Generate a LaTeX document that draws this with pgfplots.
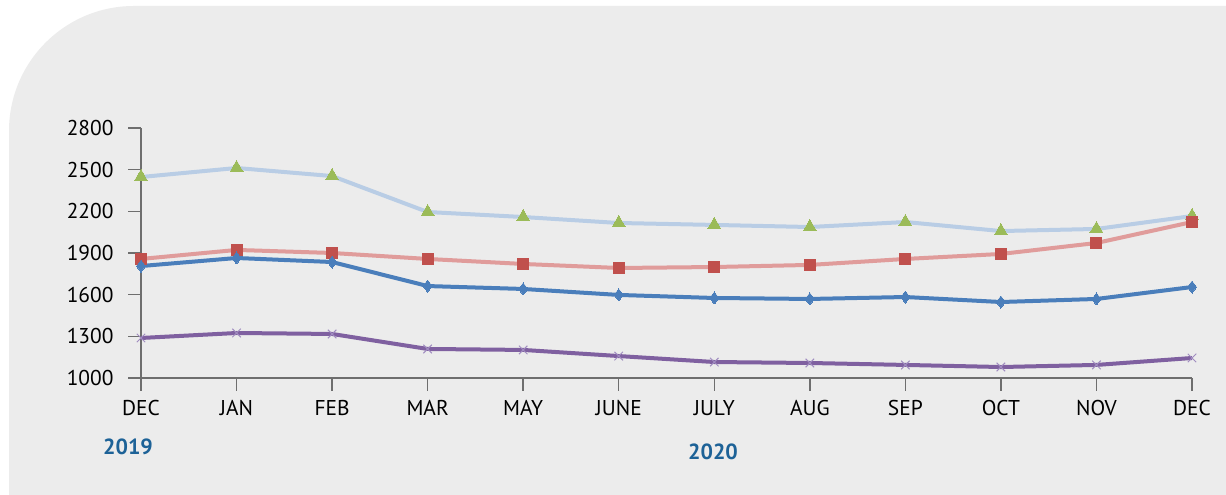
\documentclass[border=0pt]{standalone}
\usepackage{fontspec}
\setmainfont{PT Sans}
\usepackage{pgfplots}
\pgfplotsset{compat=1.18}

\definecolor{bg}{HTML}{ECECEC}
\definecolor{axisgray}{HTML}{6E6E6E}
\definecolor{lblue}{HTML}{B9CDE5}
\definecolor{tgreen}{HTML}{9BBB59}
\definecolor{lred}{HTML}{E09C9B}
\definecolor{sred}{HTML}{C0504D}
\definecolor{mblue}{HTML}{4A7EBB}
\definecolor{purp}{HTML}{7F60A0}
\definecolor{lpurp}{HTML}{A08CC0}
\definecolor{yearblue}{HTML}{1D6297}

\begin{document}
\begin{tikzpicture}[x=1bp,y=1bp]
\useasboundingbox (0,0) rectangle (1226,495);
\fill[white] (0,0) rectangle (1226,495);
\fill[bg] (9,0) -- (9,364) arc[start angle=180, end angle=90, radius=125] -- (1226,489) -- (1226,0) -- cycle;

\begin{axis}[
  at={(141bp,117bp)}, anchor=south west,
  width=1051bp, height=250bp,
  scale only axis,
  xmin=0, xmax=11,
  ymin=1000, ymax=2800,
  ytick={1000,1300,...,2800},
  xtick={0,...,11},
  xticklabels={DEC,JAN,FEB,MAR,MAY,JUNE,JULY,AUG,SEP,OCT,NOV,DEC},
  axis x line*=bottom,
  axis y line*=left,
  axis line style={axisgray, line width=1.5bp},
  tick style={axisgray, line width=1.5bp},
  tick align=outside,
  major tick length=13bp,
  ticklabel style={font=\fontsize{21.5}{24}\selectfont, text=black},
  yticklabel style={xshift=-11bp},
  xticklabel style={yshift=-6bp},
  /pgf/number format/assume math mode=true,
  /pgf/number format/1000 sep={},
  clip=false,
]
\addplot[lblue, line width=4bp, mark=triangle*, mark size=7.5bp,
  mark options={fill=tgreen, draw=tgreen, line width=0pt}] coordinates {
  (0,2447) (1,2512) (2,2454) (3,2195) (4,2159) (5,2116)
  (6,2102) (7,2087) (8,2123) (9,2058) (10,2073) (11,2166)};
\addplot[lred, line width=4bp, mark=square*, mark size=5.5bp,
  mark options={fill=sred, draw=sred, line width=0pt}] coordinates {
  (0,1857) (1,1922) (2,1900) (3,1857) (4,1821) (5,1792)
  (6,1799) (7,1814) (8,1857) (9,1893) (10,1972) (11,2123)};
\addplot[mblue, line width=4bp, mark=diamond*, mark size=6bp,
  mark options={fill=mblue, draw=mblue, line width=0pt}] coordinates {
  (0,1806) (1,1864) (2,1835) (3,1662) (4,1641) (5,1598)
  (6,1576) (7,1569) (8,1583) (9,1547) (10,1569) (11,1655)};
\addplot[purp, line width=4bp, mark=x, mark size=6bp,
  mark options={draw=lpurp, line width=1bp}] coordinates {
  (0,1288) (1,1324) (2,1317) (3,1209) (4,1202) (5,1158)
  (6,1115) (7,1108) (8,1094) (9,1079) (10,1094) (11,1144)};
\end{axis}

\node[text=yearblue, font=\fontsize{22}{26}\selectfont\bfseries] at (128,48) {2019};
\node[text=yearblue, font=\fontsize{22}{26}\selectfont\bfseries] at (713,43) {2020};
\end{tikzpicture}
\end{document}
